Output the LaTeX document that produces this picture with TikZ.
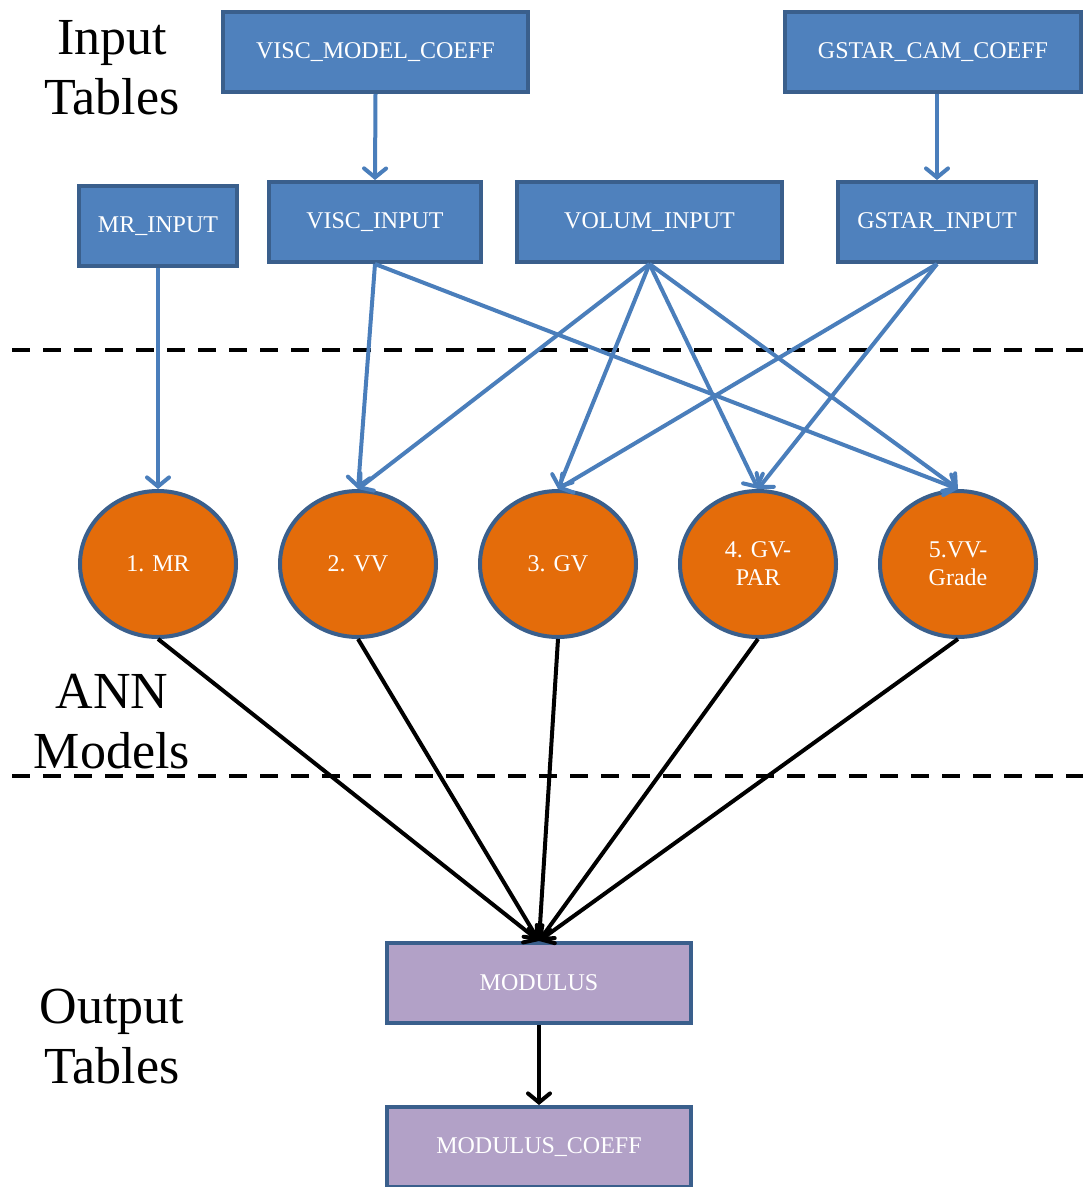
\documentclass[tikz,border=0pt]{standalone}
\usepackage{fontspec}
\setmainfont{Liberation Serif}
\usepackage{tikz}
\usetikzlibrary{calc}
\usetikzlibrary{positioning}
\usetikzlibrary{shapes.geometric}
\usetikzlibrary{arrows.meta}
\definecolor{tblblue}{HTML}{4F81BD}
\definecolor{edgeblue}{HTML}{3A5F8C}
\definecolor{arrblue}{HTML}{4A7EBB}
\definecolor{annorange}{HTML}{E46C0A}
\definecolor{outpurple}{HTML}{B2A1C7}
\tikzstyle{smalltext} = [text=white, font=\fontsize{24}{28}\selectfont, align=center]
\tikzstyle{tablenode} = [draw=edgeblue, line width=4pt, rectangle, minimum height=80pt, smalltext]
\tikzstyle{inputnode} = [tablenode, fill=tblblue]
\tikzstyle{outputnode} = [tablenode, fill=outpurple]
\tikzstyle{annnode} = [draw=edgeblue, line width=4pt, ellipse, fill=annorange, minimum width=156pt, minimum height=146pt, inner sep=0pt, smalltext]
\tikzstyle{sectionlabel} = [font=\fontsize{52}{60}\selectfont, align=center]
\tikzstyle{inarrow} = [draw=arrblue, line width=4pt, -{Straight Barb[length=9pt, width=22pt, line width=4pt, line cap=round]}]
\tikzstyle{outarrow} = [draw=black, line width=4pt, -{Straight Barb[length=9pt, width=22pt, line width=4pt, line cap=round]}]
\tikzstyle{divider} = [draw=black, line width=3.5pt, dash pattern=on 18pt off 13pt]

\begin{document}
\begin{tikzpicture}[x=1pt, y=-1pt]
\useasboundingbox (0,0) rectangle (1083,1187);

% section labels
\node[sectionlabel] (lbl_in) at (112,68) {Input\\Tables};
\node[sectionlabel] (lbl_ann) at (112,722) {ANN\\Models};
\node[sectionlabel] (lbl_out) at (112,1037) {Output\\Tables};

% dividers
\coordinate (div1_l) at (12,350);
\coordinate (div1_r) at (1083,350);
\coordinate (div2_l) at (12,776);
\coordinate (div2_r) at (1083,776);
\draw[divider] (div1_l) -- (div1_r);
\draw[divider] (div2_l) -- (div2_r);

% input tables
\node[inputnode, minimum width=305pt] (visc_coeff) at (375.5,52) {VISC\_MODEL\_COEFF};
\node[inputnode, minimum width=296pt] (gstar_coeff) at (933,52) {GSTAR\_CAM\_COEFF};
\node[inputnode, minimum width=158pt] (mr_in) at (158,226) {MR\_INPUT};
\node[inputnode, minimum width=212pt] (visc_in) at (375,222) {VISC\_INPUT};
\node[inputnode, minimum width=265pt] (volum_in) at (649.5,222) {VOLUM\_INPUT};
\node[inputnode, minimum width=198pt] (gstar_in) at (937,222) {GSTAR\_INPUT};

% ANN models
\node[annnode] (mr) at (158,564) {1. MR};
\node[annnode] (vv) at (358,564) {2. VV};
\node[annnode] (gv) at (558,564) {3. GV};
\node[annnode] (gvpar) at (758,564) {4. GV-\\PAR};
\node[annnode] (vvgrade) at (958,564) {5.VV-\\Grade};

% output tables
\node[outputnode, minimum width=304pt] (modulus) at (539,983) {MODULUS};
\node[outputnode, minimum width=304pt] (mod_coeff) at (539,1147) {MODULUS\_COEFF};

% table to table
\draw[inarrow] (visc_coeff.south) -- (visc_in.north);
\draw[inarrow] (gstar_coeff.south -| gstar_in.north) -- (gstar_in.north);

% inputs to models
\draw[inarrow] (mr_in.south) -- (mr.north);
\foreach \m in {vv, vvgrade}
    \draw[inarrow] (visc_in.south) -- (\m.north);
\foreach \m in {vv, gv, gvpar, vvgrade}
    \draw[inarrow] (volum_in.south) -- (\m.north);
\foreach \m in {gv, gvpar}
    \draw[inarrow] (gstar_in.south) -- (\m.north);

% models to output
\foreach \m in {mr, vv, gv, gvpar, vvgrade}
    \draw[outarrow] (\m.south) -- (modulus.north);
\draw[outarrow] (modulus.south) -- (mod_coeff.north);
\end{tikzpicture}
\end{document}
